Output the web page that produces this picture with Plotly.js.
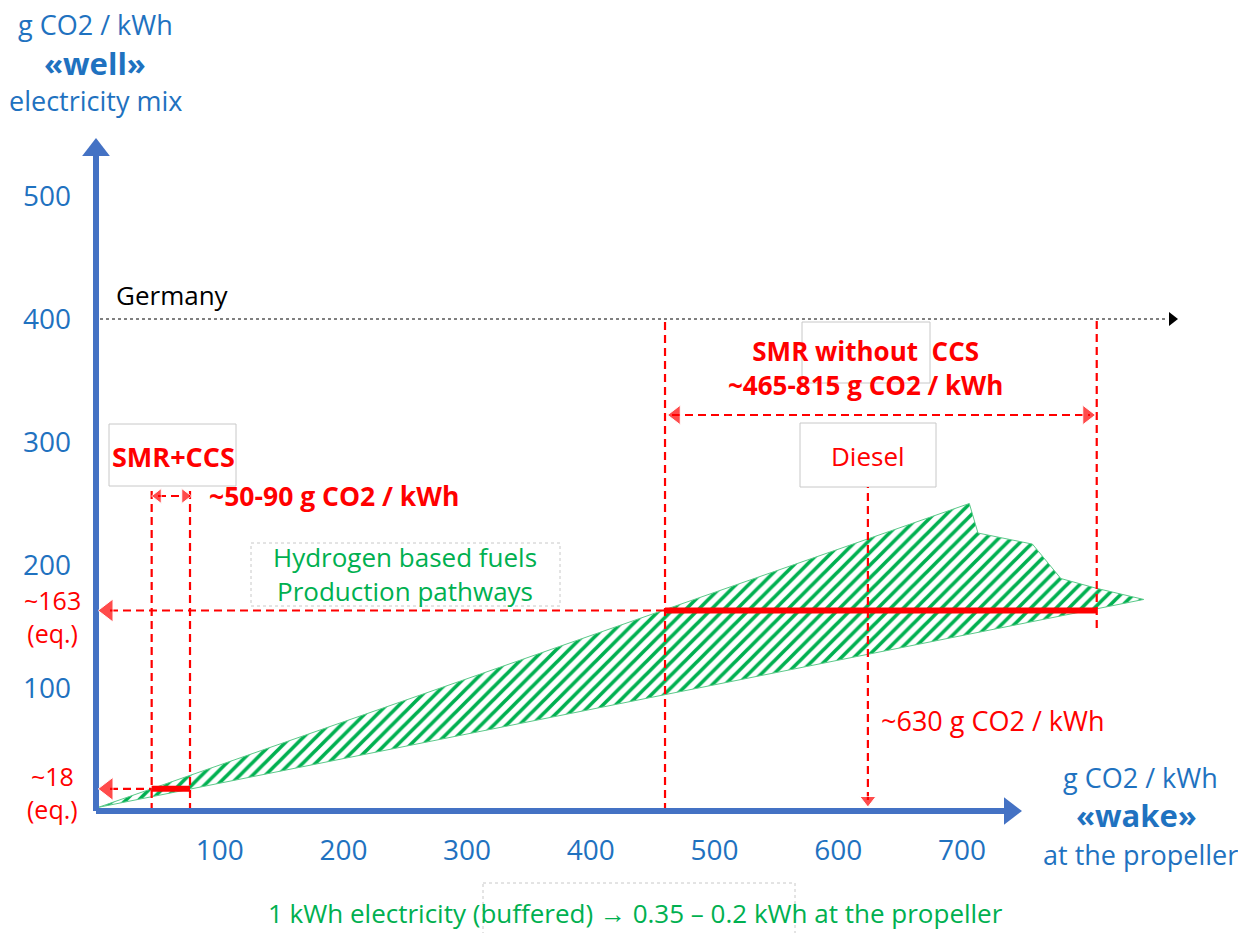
<!DOCTYPE html>
<html><head><meta charset="utf-8">
<script src="https://cdn.plot.ly/plotly-3.0.1.min.js"></script>
<style>html,body{margin:0;padding:0;background:#fff}#chart{width:1238px;height:933px}</style>
</head><body><div id="chart"></div>
<script>
// ---------- data ----------
const xTicks = [100, 200, 300, 400, 500, 600, 700];
const yTicks = [100, 200, 300, 400, 500];
const germanyLevel = 400;
// hydrogen pathways band (x = wake, y = well)
const bandUpperX = [2, 706, 713, 757, 780, 809, 847];
const bandUpperY = [3, 250, 226, 217, 189, 181, 172];
const bandLowerX = [847, 2];
const bandLowerY = [172, 3];
// SMR + CCS
const ccsRange = [45, 76];
const ccsLevel = 18;
// SMR without CCS
const smrRange = [460, 809];
const smrLevel = 163;
// Diesel
const dieselX = 624;

// ---------- pixel helpers for decoration placement ----------
const X = px => (px - 96) / 1.237;
const Y = py => (811 - py) / 1.23;
const PX = px => (px - 86) / 1152;
const PY = py => (821 - py) / 821;

const RED = '#FF0000', GREEN = '#00B050', BLUE = '#1F72C0', AXIS = '#4472C4';
const FONT = '"Open Sans", "Noto Sans", sans-serif';

const traces = [];
// band
traces.push({
  x: bandUpperX.concat(bandLowerX), y: bandUpperY.concat(bandLowerY),
  mode: 'lines', fill: 'toself', line: {color: '#5CC98A', width: 1},
  fillcolor: 'rgba(0,0,0,0)',
  fillpattern: {shape: '/', fgcolor: GREEN, bgcolor: 'white', size: 9, solidity: 0.4},
  hoverinfo: 'skip', showlegend: false
});

function seg(arr) { // arr of [x0,y0,x1,y1]
  const xs = [], ys = [];
  arr.forEach(s => { xs.push(s[0], s[2], null); ys.push(s[1], s[3], null); });
  return {x: xs, y: ys};
}
const topCCS = Y(487), topSMR = germanyLevel;
// red dashed lines
const dashed = seg([
  [ccsRange[0], 0, ccsRange[0], topCCS],
  [ccsRange[1], 0, ccsRange[1], topCCS],
  [smrRange[0], 0, smrRange[0], topSMR],
  [smrRange[1], Y(628), smrRange[1], topSMR],
  [dieselX, Y(800), dieselX, topCCS],
  [X(110), smrLevel, smrRange[0], smrLevel],
  [X(110), ccsLevel, ccsRange[0], ccsLevel],
  [X(672), Y(415), X(1090), Y(415)],
  [X(158), Y(496), X(184), Y(496)]
]);
traces.push(Object.assign(dashed, {mode: 'lines', line: {color: RED, width: 2.2, dash: '8px,5px'}, hoverinfo: 'skip', showlegend: false, connectgaps: false}));
// black dotted Germany line
traces.push({x: [X(100), X(1168)], y: [germanyLevel, germanyLevel], mode: 'lines',
  line: {color: '#000', width: 1, dash: '3px,3px'}, hoverinfo: 'skip', showlegend: false});
// red solid bars
const bars = seg([[ccsRange[0], ccsLevel, ccsRange[1], ccsLevel], [smrRange[0], smrLevel, smrRange[1], smrLevel]]);
traces.push(Object.assign(bars, {mode: 'lines', line: {color: RED, width: 6}, hoverinfo: 'skip', showlegend: false}));
// axes
traces.push({x: [0, 0, null, 0, X(1008)], y: [Y(152), 0, null, 0, 0], mode: 'lines',
  line: {color: AXIS, width: 6}, hoverinfo: 'skip', showlegend: false});
traces.push({x: [0, X(1010)], y: [Y(150), 0], mode: 'markers',
  marker: {symbol: ['triangle-up', 'triangle-right'], size: 24, color: AXIS}, hoverinfo: 'skip', showlegend: false, cliponaxis: false});
// red arrowheads
traces.push({
  x: [X(108), X(108), X(676), X(1087), X(158), X(185), dieselX],
  y: [smrLevel, ccsLevel, Y(415), Y(415), Y(496), Y(496), Y(800)],
  mode: 'markers',
  marker: {symbol: ['triangle-left', 'triangle-left', 'triangle-left', 'triangle-right', 'triangle-left', 'triangle-right', 'triangle-down'],
    size: [20, 20, 17, 17, 13, 13, 14], color: RED},
  hoverinfo: 'skip', showlegend: false, cliponaxis: false
});
// black arrowhead
traces.push({x: [X(1172)], y: [germanyLevel], mode: 'markers',
  marker: {symbol: 'triangle-right', size: 12, color: '#000'}, hoverinfo: 'skip', showlegend: false, cliponaxis: false});

function txt(px, py, text, o) {
  o = o || {};
  return {x: PX(px), y: PY(py), xref: 'paper', yref: 'paper', text: text, showarrow: false,
    xanchor: o.xa || 'center', yanchor: 'middle', align: o.xa || 'center',
    font: {family: o.family || FONT, size: o.size || 26, color: o.color || BLUE}};
}
const annotations = [
  txt(95, 25, 'g CO2 / kWh', {size: 27}),
  txt(95, 63, '<b>«well»</b>', {size: 31}),
  txt(95, 101, 'electricity mix', {size: 27}),
  txt(114, 295, 'Germany', {xa: 'left', color: '#000', size: 26}),
  txt(173, 456, '<b>SMR+CCS</b>', {color: RED, size: 27}),
  txt(207, 496, '<b>~50-90 g CO2 / kWh</b>', {xa: 'left', color: RED, size: 26.5}),
  txt(865, 368, '<b>SMR without  CCS</b><br><b>~465-815 g CO2 / kWh</b>', {color: RED, size: 26}),
  txt(868, 456, 'Diesel', {color: RED, size: 26}),
  txt(405, 574, 'Hydrogen based fuels<br>Production pathways', {color: GREEN, size: 26}),
  txt(52, 616, '~' + smrLevel + '<br>(eq.)', {color: RED, size: 25}),
  txt(52, 792, '~' + ccsLevel + '<br>(eq.)', {color: RED, size: 25}),
  txt(879, 720, '~630 g CO2 / kWh', {xa: 'left', color: RED, size: 27}),
  txt(1140, 777, 'g CO2 / kWh', {size: 27}),
  txt(1136, 815, '<b>«wake»</b>', {size: 31}),
  txt(1041, 854, 'at the propeller', {xa: 'left', size: 27}),
  txt(635, 913, '1 kWh electricity (buffered) <b>\u2192</b> 0.35 \u2013 0.2 kWh at the propeller',
    {color: GREEN, size: 26})
];

function box(x0, y0, x1, y1, dash) {
  return {type: 'rect', xref: 'paper', yref: 'paper', x0: PX(x0), x1: PX(x1), y0: PY(y0), y1: PY(y1),
    line: {color: '#C8C8C8', width: 1, dash: dash || 'solid'}, fillcolor: 'rgba(255,255,255,0)', layer: 'below'};
}
const shapes = [
  box(109, 424, 236, 486),
  box(802, 322, 930, 383),
  box(800, 423, 936, 487),
  box(251, 543, 560, 606, 'dot'),
  box(483, 883, 795, 960, 'dot')
];

const layout = {
  width: 1238, height: 933,
  margin: {l: 86, r: 0, t: 0, b: 112, pad: 0},
  paper_bgcolor: '#fff', plot_bgcolor: 'rgba(0,0,0,0)',
  showlegend: false,
  xaxis: {range: [X(86), X(1238)], tickvals: xTicks, ticktext: xTicks.map(String),
    showgrid: false, zeroline: false, showline: false, ticks: '', fixedrange: true,
    tickfont: {family: FONT, size: 28, color: BLUE}, ticklabelstandoff: 10},
  yaxis: {range: [Y(821), Y(0)], tickvals: yTicks, ticktext: yTicks.map(String),
    showgrid: false, zeroline: false, showline: false, ticks: '', fixedrange: true,
    tickfont: {family: FONT, size: 28, color: BLUE}, ticklabelstandoff: 14},
  annotations: annotations,
  shapes: shapes
};
Plotly.newPlot('chart', traces, layout, {displayModeBar: false, staticPlot: true});
</script></body></html>
